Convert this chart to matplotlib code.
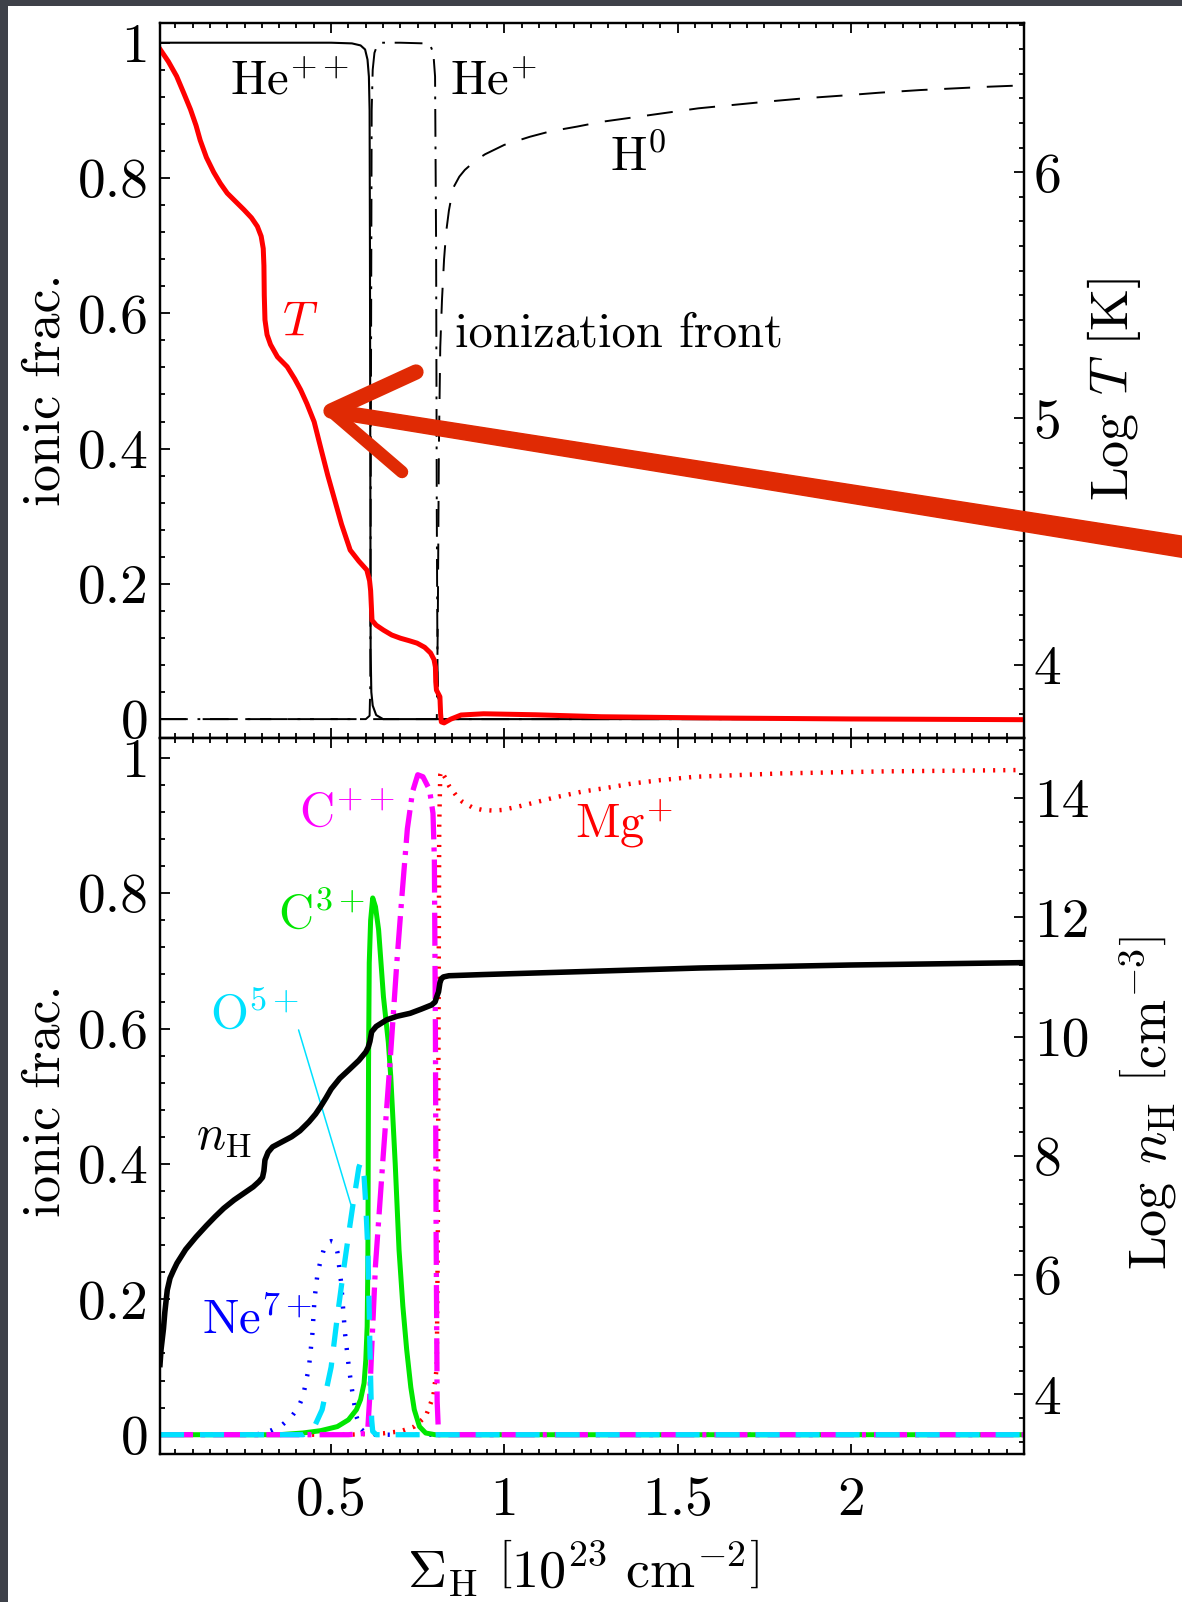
import numpy as np
import matplotlib
matplotlib.use('Agg')
import matplotlib.pyplot as plt
from matplotlib.ticker import MultipleLocator
from matplotlib.lines import Line2D
from matplotlib.patches import Rectangle, Polygon

plt.rcParams['font.family'] = 'serif'
plt.rcParams['font.serif'] = ['cmr10']
plt.rcParams['mathtext.fontset'] = 'cm'
plt.rcParams['axes.formatter.use_mathtext'] = True
plt.rcParams['lines.scale_dashes'] = False

# ---------------- data ----------------
# upper panel: ionic fractions (left axis)
he2_x = [0.006, 0.5, 0.56, 0.585, 0.598, 0.605, 0.609, 0.611, 0.612, 0.613, 0.614, 0.616, 0.62, 0.63, 0.65, 2.5]
he2_y = [1.0, 1.0, 0.999, 0.996, 0.99, 0.975, 0.95, 0.9, 0.7, 0.4, 0.1, 0.04, 0.02, 0.006, 0.0, 0.0]

hep_x = [0.006, 0.6, 0.611, 0.613, 0.615, 0.617, 0.62, 0.625, 0.632, 0.645, 0.7, 0.77, 0.787, 0.795, 0.8, 0.803, 0.805, 0.807, 0.81, 0.82, 2.5]
hep_y = [0.0, 0.0, 0.005, 0.05, 0.5, 0.9, 0.96, 0.985, 0.995, 1.0, 1.0, 0.999, 0.995, 0.985, 0.95, 0.7, 0.3, 0.08, 0.02, 0.0, 0.0]

h0_x = [0.006, 0.805, 0.808, 0.811, 0.815, 0.82, 0.826, 0.832, 0.84, 0.852, 0.87, 0.886, 0.915, 0.944, 1.0, 1.074, 1.133,
        1.21, 1.28, 1.35, 1.42, 1.49, 1.56, 1.66, 1.76, 1.87, 1.98, 2.08, 2.2, 2.32, 2.4, 2.5]
h0_y = [0.0, 0.0, 0.15, 0.4, 0.55, 0.62, 0.68, 0.72, 0.752, 0.785, 0.802, 0.812, 0.825, 0.835, 0.849, 0.861, 0.869,
        0.876, 0.883, 0.888, 0.893, 0.898, 0.903, 0.908, 0.913, 0.918, 0.922, 0.926, 0.93, 0.933, 0.935, 0.937]

# upper panel: Log T (right axis)
t_x = [0.006, 0.03, 0.054, 0.075, 0.094, 0.11, 0.122, 0.14, 0.161, 0.18, 0.2, 0.225, 0.248, 0.27, 0.287, 0.298,
       0.304, 0.306, 0.307, 0.309, 0.315, 0.325, 0.345, 0.373, 0.395, 0.412, 0.43, 0.451, 0.47, 0.49, 0.51, 0.53,
       0.555, 0.58, 0.603, 0.611, 0.614, 0.616, 0.618, 0.63, 0.651, 0.675, 0.7, 0.725, 0.748, 0.77, 0.787, 0.797,
       0.801, 0.802, 0.804, 0.81, 0.814, 0.816, 0.818, 0.826, 0.845, 0.875, 0.94, 1.09, 1.28, 1.6, 2.0, 2.5]
t_y = [6.50, 6.45, 6.39, 6.32, 6.255, 6.19, 6.13, 6.06, 6.0, 5.955, 5.915, 5.88, 5.848, 5.815, 5.78, 5.74,
       5.69, 5.62, 5.50, 5.40, 5.34, 5.30, 5.25, 5.21, 5.16, 5.116, 5.06, 4.986, 4.88, 4.77, 4.67, 4.57,
       4.465, 4.42, 4.384, 4.34, 4.30, 4.24, 4.18, 4.16, 4.14, 4.12, 4.107, 4.097, 4.087, 4.07, 4.047, 4.02,
       3.99, 3.93, 3.896, 3.88, 3.869, 3.80, 3.767, 3.763, 3.778, 3.795, 3.80, 3.796, 3.788, 3.783, 3.779, 3.776]

# lower panel: ionic fractions (left axis)
ne_x = [0.006, 0.28, 0.31, 0.33, 0.36, 0.386, 0.405, 0.419, 0.436, 0.446, 0.452, 0.46, 0.468, 0.479, 0.49,
        0.5, 0.51, 0.518, 0.529, 0.54, 0.551, 0.562, 0.573, 0.585, 0.6, 0.62, 2.5]
ne_y = [0.0, 0.0, 0.003, 0.007, 0.015, 0.027, 0.04, 0.057, 0.1, 0.15, 0.2, 0.235, 0.254, 0.274, 0.284,
        0.286, 0.284, 0.27, 0.224, 0.15, 0.1, 0.06, 0.027, 0.009, 0.002, 0.0, 0.0]

o5_x = [0.006, 0.42, 0.45, 0.474, 0.5, 0.518, 0.535, 0.551, 0.563, 0.573, 0.58, 0.585, 0.59, 0.595, 0.6,
        0.606, 0.61, 0.612, 0.615, 0.617, 0.62, 0.63, 2.5]
o5_y = [0.0, 0.0, 0.01, 0.037, 0.1, 0.175, 0.24, 0.298, 0.34, 0.372, 0.395, 0.402, 0.398, 0.382, 0.34,
        0.273, 0.18, 0.126, 0.06, 0.022, 0.005, 0.0, 0.0]

c3_x = [0.006, 0.35, 0.418, 0.47, 0.518, 0.55, 0.573, 0.585, 0.595, 0.6, 0.604, 0.606, 0.607, 0.608, 0.61,
        0.614, 0.62, 0.628, 0.637, 0.651, 0.665, 0.672, 0.685, 0.696, 0.707, 0.718, 0.73, 0.74, 0.755, 0.773, 0.8, 2.5]
c3_y = [0.0, 0.0, 0.0025, 0.006, 0.012, 0.022, 0.037, 0.052, 0.076, 0.11, 0.16, 0.25, 0.4, 0.549, 0.697,
        0.76, 0.793, 0.78, 0.746, 0.647, 0.58, 0.53, 0.40, 0.273, 0.19, 0.126, 0.07, 0.037, 0.012, 0.0025, 0.0, 0.0]

c2_x = [0.006, 0.55, 0.6, 0.606, 0.611, 0.617, 0.628, 0.65, 0.67, 0.69, 0.705, 0.72, 0.735, 0.75, 0.765,
        0.784, 0.794, 0.798, 0.801, 0.803, 0.806, 0.81, 2.5]
c2_y = [0.0, 0.0, 0.002, 0.01, 0.052, 0.126, 0.25, 0.41, 0.55, 0.70, 0.80, 0.895, 0.95, 0.975, 0.972,
        0.953, 0.918, 0.85, 0.6, 0.3, 0.05, 0.0, 0.0]

mg_x = [0.006, 0.55, 0.65, 0.7, 0.74, 0.773, 0.795, 0.805, 0.808, 0.81, 0.812, 0.815, 0.818, 0.83, 0.841,
        0.86, 0.879, 0.91, 0.937, 0.97, 0.994, 1.04, 1.08, 1.15, 1.224, 1.3, 1.368, 1.45, 1.55, 1.8, 2.1, 2.5]
mg_y = [0.0, 0.0, 0.002, 0.005, 0.012, 0.027, 0.057, 0.1, 0.3, 0.6, 0.9, 0.975, 0.98, 0.97, 0.958,
        0.945, 0.935, 0.926, 0.923, 0.922, 0.923, 0.928, 0.933, 0.942, 0.95, 0.956, 0.962, 0.967, 0.972, 0.977, 0.98, 0.982]

# lower panel: Log n_H (right axis)
nh_x = [0.006, 0.009, 0.012, 0.016, 0.02, 0.027, 0.035, 0.045, 0.055, 0.08, 0.11, 0.14, 0.165, 0.19, 0.22,
        0.25, 0.275, 0.292, 0.302, 0.306, 0.309, 0.318, 0.331, 0.36, 0.386, 0.41, 0.436, 0.455, 0.469, 0.485,
        0.5, 0.525, 0.551, 0.58, 0.6, 0.607, 0.612, 0.617, 0.63, 0.66, 0.69, 0.728, 0.76, 0.79, 0.8, 0.805,
        0.81, 0.814, 0.818, 0.824, 0.84, 0.939, 1.227, 1.565, 2.0, 2.5]
nh_y = [4.5, 4.75, 4.9, 5.1, 5.38, 5.75, 5.95, 6.08, 6.2, 6.43, 6.64, 6.83, 6.98, 7.12, 7.26,
        7.38, 7.48, 7.57, 7.64, 7.75, 7.93, 8.06, 8.15, 8.24, 8.32, 8.42, 8.57, 8.70, 8.82, 8.97,
        9.12, 9.3, 9.44, 9.6, 9.74, 9.82, 9.92, 10.08, 10.17, 10.28, 10.34, 10.39, 10.46, 10.53, 10.58, 10.67,
        10.75, 10.9, 10.97, 11.0, 11.02, 11.04, 11.09, 11.15, 11.2, 11.24]

# ticks
x_ticks = [0.5, 1, 1.5, 2]
x_labels = ['0.5', '1', '1.5', '2']
frac_ticks = [0, 0.2, 0.4, 0.6, 0.8, 1]
frac_labels = ['0', '0.2', '0.4', '0.6', '0.8', '1']
logT_ticks = [4, 5, 6]
logT_labels = ['4', '5', '6']
lognh_ticks = [4, 6, 8, 10, 12, 14]
lognh_labels = ['4', '6', '8', '10', '12', '14']

# ---------------- figure ----------------
W, H = 1182, 1602
fig = plt.figure(figsize=(W / 100, H / 100), dpi=100)
fig.patch.set_facecolor('white')

L, R = 160, 1024
T1, M, B2 = 23.3, 738.4, 1454
def axrect(top, bot):
    return [L / W, 1 - bot / H, (R - L) / W, (bot - top) / H]

ax1 = fig.add_axes(axrect(T1, M))
ax2 = fig.add_axes(axrect(M, B2))
XLIM = (0.006, 2.5)
FLIM = (-0.0285, 1.0287)

TICK_FS = 40
TXT_FS = 35
LAB_FS = 39

def style_main(ax, labelbottom):
    ax.set_xlim(*XLIM)
    ax.set_ylim(*FLIM)
    ax.set_xticks(x_ticks)
    ax.set_xticklabels(x_labels if labelbottom else [])
    ax.xaxis.set_minor_locator(MultipleLocator(0.05))
    ax.set_yticks(frac_ticks)
    ax.set_yticklabels(frac_labels)
    ax.yaxis.set_minor_locator(MultipleLocator(0.04))
    ax.tick_params(which='both', direction='in', top=True, bottom=True, left=True, right=False,
                   width=1.3, labelsize=TICK_FS, labelbottom=labelbottom)
    ax.tick_params(which='major', length=7.5)
    ax.tick_params(which='minor', length=3.6)
    ax.tick_params(axis='x', pad=16)
    ax.tick_params(axis='y', pad=8)
    for s in ax.spines.values():
        s.set_linewidth(1.6)

style_main(ax1, False)
style_main(ax2, True)

# upper panel lines
ax1.plot(hep_x, hep_y, color='black', lw=1.4, ls=(0, (20, 7, 2, 7)), dash_capstyle='butt')
ax1.plot(h0_x, h0_y, color='black', lw=1.4, ls=(0, (18.7, 12)), dash_capstyle='butt')
ax1.plot(he2_x, he2_y, color='black', lw=1.5)

tx = ax1.twinx()
tx.set_ylim(3.700, 6.605)
tx.set_yticks(logT_ticks)
tx.set_yticklabels(logT_labels)
tx.yaxis.set_minor_locator(MultipleLocator(0.1))
tx.plot(t_x, t_y, color='#ff0000', lw=3.6, solid_joinstyle='round')

# lower panel lines
ax2.plot(mg_x, mg_y, color='#ff0000', lw=3.2, ls=(0, (1.5, 5.8)), dash_capstyle='butt')
ax2.plot(ne_x, ne_y, color='#0000ff', lw=3.2, ls=(0, (1.5, 8.5)), dash_capstyle='butt')
ax2.plot(c3_x, c3_y, color='#00e600', lw=3.6)
ax2.plot(c2_x, c2_y, color='#ff00ff', lw=3.8, ls=(0, (23.8, 5.8, 2.9, 5.8)), dash_capstyle='butt')
ax2.plot(o5_x, o5_y, color='#00e1ff', lw=3.8, ls=(0, (17.3, 11.5)), dash_capstyle='butt')

nx = ax2.twinx()
nx.set_ylim(3, 15)
nx.set_yticks(lognh_ticks)
nx.set_yticklabels(lognh_labels)
nx.yaxis.set_minor_locator(MultipleLocator(0.4))
nx.plot(nh_x, nh_y, color='black', lw=4.0, solid_joinstyle='round')

for t in (tx, nx):
    t.tick_params(which='both', direction='in', right=True, left=False, top=False, bottom=False,
                  width=1.3, labelsize=TICK_FS, pad=7)
    t.tick_params(which='major', length=7.5)
    t.tick_params(which='minor', length=3.6)
    for s in t.spines.values():
        s.set_linewidth(1.6)

# annotations (upper)
ax1.text(0.209, 0.923, r'He$^{++}$', fontsize=TXT_FS, va='baseline', ha='left')
ax1.text(0.843, 0.923, r'He$^{+}$', fontsize=TXT_FS, va='baseline', ha='left')
ax1.text(1.305, 0.81, r'H$^{0}$', fontsize=TXT_FS, va='baseline', ha='left')
ax1.text(0.358, 0.568, r'$T$', fontsize=TXT_FS, va='baseline', ha='left', color='#ff0000')
ax1.text(0.857, 0.551, 'ionization front', fontsize=TXT_FS, va='baseline', ha='left')

# annotations (lower)
ax2.text(0.406, 0.8985, r'C$^{++}$', fontsize=TXT_FS, va='baseline', ha='left', color='#ff00ff')
ax2.text(1.203, 0.883, r'Mg$^{+}$', fontsize=TXT_FS, va='baseline', ha='left', color='#ff0000')
ax2.text(0.348, 0.748, r'C$^{3+}$', fontsize=TXT_FS, va='baseline', ha='left', color='#00e600')
ax2.text(0.150, 0.600, r'O$^{5+}$', fontsize=TXT_FS, va='baseline', ha='left', color='#00e1ff')
ax2.text(0.110, 0.421, r'$n_{\rm H}$', fontsize=TXT_FS, va='baseline', ha='left', color='black')
ax2.text(0.127, 0.150, r'Ne$^{7+}$', fontsize=TXT_FS, va='baseline', ha='left', color='#0000ff')
ax2.annotate('', xy=(0.557, 0.34), xytext=(0.406, 0.598),
             arrowprops=dict(arrowstyle='-', color='#00e1ff', lw=1.1, shrinkA=0, shrinkB=0))

# axis labels
def fx(px):
    return px / W
def fy(py):
    return 1 - py / H

fig.text(fx(60), fy(389.5), 'ionic frac.', rotation=90, rotation_mode='anchor',
         ha='center', va='baseline', fontsize=LAB_FS)
fig.text(fx(60), fy(1101), 'ionic frac.', rotation=90, rotation_mode='anchor',
         ha='center', va='baseline', fontsize=LAB_FS)
fig.text(fx(1128), fy(389), r'Log $T$ [K]', rotation=90, rotation_mode='anchor',
         ha='center', va='baseline', fontsize=LAB_FS)
fig.text(fx(1165), fy(1103), r'Log $n_{\rm H}$ $\left[{\rm cm}^{-3}\right]$', rotation=90,
         rotation_mode='anchor', ha='center', va='baseline', fontsize=LAB_FS)
fig.text(fx(583), fy(1588), r'$\Sigma_{\rm H}$ $\left[10^{23}\ {\rm cm}^{-2}\right]$',
         ha='center', va='baseline', fontsize=LAB_FS)

# slide background strips
fig.patches.append(Rectangle((0, fy(6)), 1, 6 / H, transform=fig.transFigure,
                             facecolor='#3e4149', edgecolor='none', zorder=0))
fig.patches.append(Rectangle((0, 0), 8 / W, 1, transform=fig.transFigure,
                             facecolor='#3e4149', edgecolor='none', zorder=0))

# hand-drawn red arrow (decoration)
acol = '#e02a04'
tip = np.array([331.0, 411.0])
tail = np.array([1190.0, 548.0])
d = (tail - tip) / np.linalg.norm(tail - tip)
n = np.array([-d[1], d[0]])
p0 = tip + d * 12
shaft = [p0 + n * 7, tail + n * 10.5, tail - n * 10.5, p0 - n * 7]
fig.add_artist(Polygon([(fx(p[0]), fy(p[1])) for p in shaft], closed=True,
                       transform=fig.transFigure, facecolor=acol, edgecolor=acol, lw=1, zorder=20))
for end, w in (([416.0, 372.0], 11), ([402.0, 472.0], 9)):
    fig.add_artist(Line2D([fx(tip[0]), fx(end[0])], [fy(tip[1]), fy(end[1])],
                          transform=fig.transFigure, color=acol, lw=w, solid_capstyle='round', zorder=20))

fig.savefig('out.png', dpi=100, facecolor='white')
